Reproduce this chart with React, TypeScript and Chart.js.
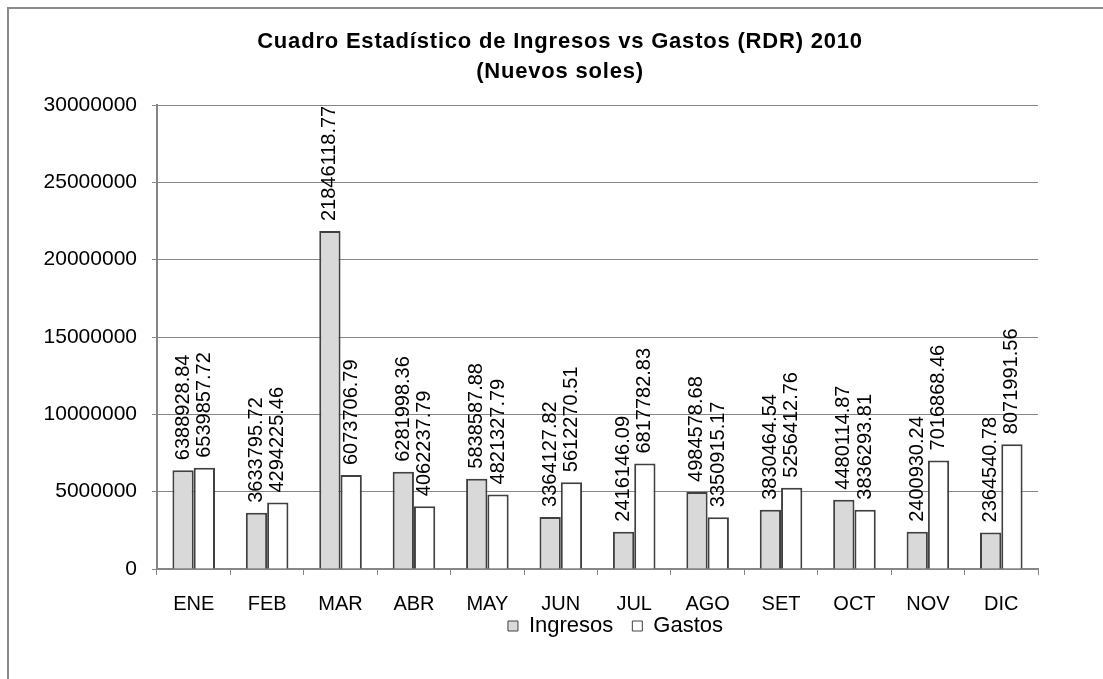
import React, { useEffect, useRef } from "react";
import { Chart, registerables } from "chart.js";

Chart.register(...registerables);

const months = ["ENE", "FEB", "MAR", "ABR", "MAY", "JUN", "JUL", "AGO", "SET", "OCT", "NOV", "DIC"];
const ingresos = [6388928.84, 3633795.72, 21846118.77, 6281998.36, 5838587.88, 3364127.82, 2416146.09, 4984578.68, 3830464.54, 4480114.87, 2400930.24, 2364540.78];
const gastos = [6539857.72, 4294225.46, 6073706.79, 4062237.79, 4821327.79, 5612270.51, 6817782.83, 3350915.17, 5256412.76, 3836293.81, 7016868.46, 8071991.56];
const seriesNames = ["Ingresos", "Gastos"];
const titleLines = ["Cuadro Estadístico de Ingresos vs Gastos (RDR) 2010", "(Nuevos soles)"];
const yMin = 0;
const yMax = 30000000;
const yStep = 5000000;

const FONT = '"Liberation Sans", Arial, sans-serif';
const GRID = "#868686";
const EDGE = "#404040";

const framePlugin = {
  id: "frame",
  beforeDraw(chart: any) {
    const ctx = chart.ctx;
    ctx.save();
    ctx.fillStyle = "#ffffff";
    ctx.fillRect(0, 0, chart.width, chart.height);
    ctx.fillStyle = "#8a8a8a";
    ctx.fillRect(7, 7, chart.width - 7, 2);
    ctx.fillRect(7, 7, 2, chart.height - 7);
    ctx.restore();
  },
};

const titlePlugin = {
  id: "twoLineTitle",
  afterDraw(chart: any) {
    const ctx = chart.ctx;
    ctx.save();
    ctx.fillStyle = "#000";
    ctx.font = `bold 22px ${FONT}`;
    try { (ctx as any).letterSpacing = "0.8px"; } catch (e) {}
    ctx.textAlign = "center";
    ctx.textBaseline = "middle";
    ctx.fillText(titleLines[0], 560, 42);
    ctx.fillText(titleLines[1], 560, 72);
    ctx.restore();
  },
};

const valueLabelPlugin = {
  id: "valueLabels",
  afterDatasetsDraw(chart: any) {
    const ctx = chart.ctx;
    ctx.save();
    ctx.fillStyle = "#000";
    ctx.font = `20px ${FONT}`;
    ctx.textAlign = "left";
    ctx.textBaseline = "middle";
    chart.data.datasets.forEach((ds: any, di: number) => {
      const meta = chart.getDatasetMeta(di);
      meta.data.forEach((bar: any, i: number) => {
        const v = ds.data[i] as number;
        ctx.save();
        ctx.translate(bar.x, bar.y - 10);
        ctx.rotate(-Math.PI / 2);
        ctx.fillText(v.toFixed(2), 0, 0);
        ctx.restore();
      });
    });
    ctx.restore();
  },
};

const legendPlacePlugin = {
  id: "legendPlace",
  afterLayout(chart: any) {
    const lg = chart.legend;
    if (lg) {
      const h = lg.bottom - lg.top;
      lg.left += 18;
      lg.right += 18;
      lg.top = 596;
      lg.bottom = 596 + h;
    }
  },
};

export default function App() {
  const ref = useRef<HTMLCanvasElement | null>(null);

  useEffect(() => {
    if (!ref.current) return;
    const chart = new Chart(ref.current, {
      type: "bar",
      data: {
        labels: months,
        datasets: [
          {
            label: seriesNames[0],
            data: ingresos,
            backgroundColor: "#d9d9d9",
            borderColor: EDGE,
            borderWidth: 2,
            categoryPercentage: 0.58,
            barPercentage: 1,
          },
          {
            label: seriesNames[1],
            data: gastos,
            backgroundColor: "#ffffff",
            borderColor: EDGE,
            borderWidth: 2,
            categoryPercentage: 0.58,
            barPercentage: 1,
          },
        ],
      },
      options: {
        responsive: false,
        animation: false,
        events: [],
        layout: { padding: { left: 10, right: 65, top: 105, bottom: 12 } },
        plugins: {
          title: { display: false },
          tooltip: { enabled: false },
          legend: {
            display: true,
            position: "bottom",
            fullSize: false,
            labels: {
              boxWidth: 10,
              boxHeight: 10,
              padding: 19,
              color: "#000",
              font: { family: FONT, size: 22 },
              generateLabels: (c: any) =>
                Chart.defaults.plugins.legend.labels.generateLabels(c).map((l: any) => ({ ...l, lineWidth: 1 })),
            },
          },
        },
        scales: {
          x: {
            grid: {
              drawOnChartArea: false,
              drawTicks: true,
              tickLength: 6,
              color: GRID,
              offset: true,
            },
            border: { color: GRID, width: 2 },
            ticks: {
              color: "#000",
              padding: 17,
              font: { family: FONT, size: 20 },
              maxRotation: 0,
              autoSkip: false,
            },
            afterFit: (s: any) => {
              s.height = 47;
            },
          },
          y: {
            min: yMin,
            max: yMax,
            grid: { color: GRID, lineWidth: 1, tickLength: 5 },
            border: { color: GRID, width: 2 },
            ticks: {
              stepSize: yStep,
              color: "#000",
              padding: 15,
              font: { family: FONT, size: 21 },
              callback: (v: any) => String(v),
            },
            afterFit: (s: any) => {
              s.width = 147;
            },
          },
        },
      },
      plugins: [framePlugin, titlePlugin, valueLabelPlugin, legendPlacePlugin],
    });
    return () => chart.destroy();
  }, []);

  return (
    <div style={{ position: "fixed", left: 0, top: 0, width: 1103, height: 679, overflow: "hidden", background: "#fff" }}>
      <canvas ref={ref} width={1103} height={679} style={{ display: "block" }} />
    </div>
  );
}
